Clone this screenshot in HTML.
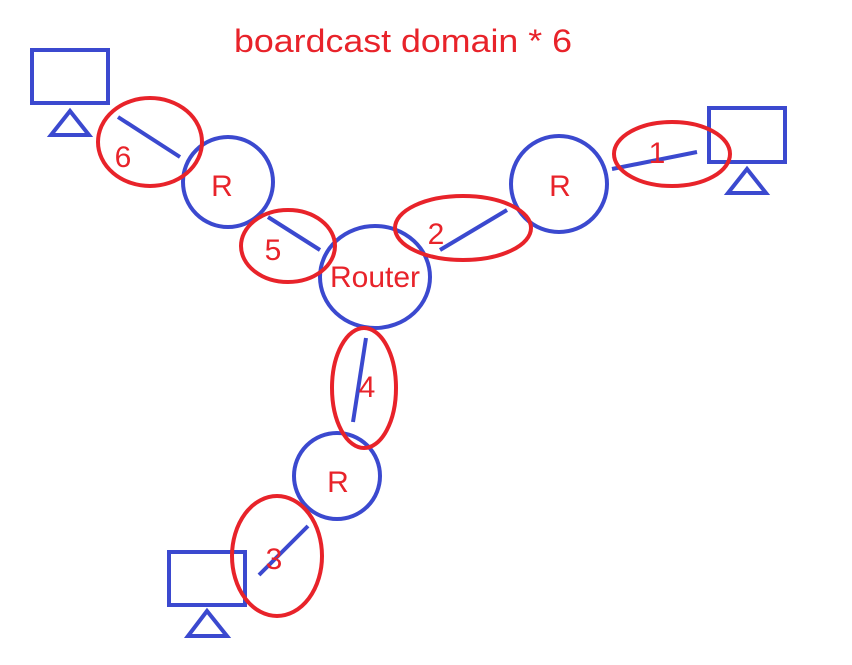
<!DOCTYPE html>
<html><head><meta charset="utf-8"><style>
html,body{margin:0;padding:0;background:#fff;}
svg{display:block;}
text{font-family:"Liberation Sans","DejaVu Sans",sans-serif;fill:#e8232a;}
</style></head><body>
<svg width="852" height="665" viewBox="0 0 852 665">
<text x="234" y="52" font-size="32" textLength="338" lengthAdjust="spacingAndGlyphs">boardcast domain * 6</text>
<g stroke="#3b49cf" stroke-width="4" fill="none">
<rect x="32" y="50" width="76" height="53"/>
<polygon points="70,111 51,135 89,135"/>
<rect x="709" y="108" width="76" height="54"/>
<polygon points="747,169 728,193 766,193"/>
<rect x="169" y="552" width="76" height="53"/>
<polygon points="207,611 188,636 227,636"/>
<circle cx="228" cy="182" r="45"/>
<circle cx="559" cy="184" r="48"/>
<circle cx="337" cy="476" r="43"/>
<ellipse cx="375" cy="277" rx="55" ry="51"/>
<line x1="118" y1="117" x2="180" y2="157"/>
<line x1="612" y1="169" x2="697" y2="152"/>
<line x1="440" y1="250" x2="507" y2="210"/>
<line x1="268" y1="217" x2="320" y2="250"/>
<line x1="366" y1="338" x2="353" y2="422"/>
<line x1="259" y1="575" x2="308" y2="526"/>
</g>
<g stroke="#e8232a" stroke-width="4" fill="none">
<ellipse cx="150" cy="142" rx="52" ry="44"/>
<ellipse cx="672" cy="154" rx="58" ry="32"/>
<ellipse cx="463" cy="228" rx="68" ry="32"/>
<ellipse cx="288" cy="246" rx="47" ry="36"/>
<ellipse cx="364" cy="388" rx="32" ry="60"/>
<ellipse cx="277" cy="556" rx="45" ry="60"/>
</g>
<g font-size="30" text-anchor="middle">
<text x="123" y="167">6</text>
<text x="222" y="196">R</text>
<text x="273" y="260">5</text>
<text x="375" y="287">Router</text>
<text x="436" y="244">2</text>
<text x="560" y="196">R</text>
<text x="657" y="163">1</text>
<text x="367" y="397">4</text>
<text x="338" y="492">R</text>
<text x="274" y="569">3</text>
</g>
</svg>
</body></html>
